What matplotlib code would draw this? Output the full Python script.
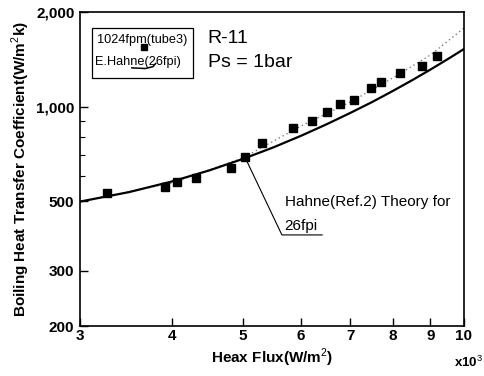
import matplotlib
matplotlib.use("Agg")
import matplotlib.pyplot as plt
from matplotlib.patches import Rectangle
from matplotlib.ticker import FixedLocator, NullFormatter, NullLocator

plt.rcParams['font.family'] = ['Liberation Sans', 'DejaVu Sans']
plt.rcParams['mathtext.fontset'] = 'custom'
plt.rcParams['mathtext.rm'] = 'Liberation Sans'
plt.rcParams['mathtext.bf'] = 'Liberation Sans:bold'

# Measured boiling heat transfer, 1024fpm tube 3 (heat flux in 10^3 W/m^2)
q_meas = [3.27, 3.92, 4.07, 4.32, 4.82, 5.03, 5.31, 5.85, 6.21, 6.51,
          6.78, 7.09, 7.48, 7.71, 8.19, 8.77, 9.19]
h_meas = [530, 554, 575, 592, 637, 691, 765, 854, 899, 961,
          1019, 1049, 1146, 1197, 1279, 1346, 1449]

# Hahne theory for 26 fpi
q_theory = [3, 3.5, 4, 4.5, 5, 5.5, 6, 6.5, 7, 7.5, 8, 8.5, 9, 9.5, 10]
h_theory = [498, 534, 577, 626, 681, 741, 807, 878, 954, 1034, 1121, 1213,
            1311, 1415, 1525]

# Trend through the measured data
q_trend = [3, 4, 5, 6, 7, 8, 9, 10]
h_trend = [498, 571, 686, 867, 1033, 1233, 1459, 1778]

x_ticks = [3, 4, 5, 6, 7, 8, 9, 10]
y_ticks = [200, 300, 500, 1000, 2000]
y_tick_labels = ['200', '300', '500', '1,000', '2,000']
y_minor = [600, 700, 800, 900]

fig = plt.figure(figsize=(4.84, 3.76), dpi=100)
ax = fig.add_axes([80 / 484, 50 / 376, 384 / 484, 314 / 376])
ax.set_xscale('log')
ax.set_yscale('log')
ax.set_xlim(3, 10)
ax.set_ylim(200, 2000)

ax.plot(q_trend, h_trend, color='#666666', lw=0.9, ls=(0, (1, 2.5)))
ax.plot(q_theory, h_theory, color='black', lw=1.6)
ax.plot(q_meas, h_meas, ls='none', marker='s', ms=5.2, color='black')

ax.xaxis.set_major_locator(FixedLocator(x_ticks))
ax.xaxis.set_minor_locator(NullLocator())
ax.set_xticklabels([str(v) for v in x_ticks])
ax.xaxis.set_minor_formatter(NullFormatter())
ax.yaxis.set_major_locator(FixedLocator(y_ticks))
ax.set_yticklabels(y_tick_labels)
ax.yaxis.set_minor_locator(FixedLocator(y_minor))
ax.yaxis.set_minor_formatter(NullFormatter())

ax.tick_params(axis='both', which='major', direction='in', length=6, width=1,
               labelsize=11)
ax.tick_params(axis='x', which='major', pad=2)
ax.tick_params(axis='y', which='major', pad=4)
ax.tick_params(axis='y', which='minor', direction='in', length=3.5, width=0.8)
for lab in ax.get_xticklabels() + ax.get_yticklabels():
    lab.set_fontweight('bold')
for sp in ax.spines.values():
    sp.set_linewidth(1.2)

ax.set_xlabel('Heax Flux(W/m$^2$)', fontsize=11, fontweight='bold', labelpad=3)
ax.set_ylabel('Boiling Heat Transfer Coefficient(W/m$^2$k)', fontsize=11,
              fontweight='bold', labelpad=3)
ax.text(1.049, -0.092, 'x10$^3$', transform=ax.transAxes, ha='right',
        va='top', fontsize=9.5, fontweight='bold')

# Legend box
ax.add_patch(Rectangle((0.03125, 0.790), 0.263, 0.159, transform=ax.transAxes,
                       fc='white', ec='black', lw=0.9, zorder=3))
ax.text(0.161, 0.911, '1024fpm(tube3)', transform=ax.transAxes, ha='center',
        va='center', fontsize=9.2, zorder=4)
ax.text(0.150, 0.841, 'E.Hahne(26fpi)', transform=ax.transAxes, ha='center',
        va='center', fontsize=9.2, zorder=4)
ax.plot([0.1667], [0.889], transform=ax.transAxes, marker='s', ms=4.5,
        color='black', ls='none', zorder=5)
ax.plot([0.135, 0.17, 0.19, 0.197], [0.822, 0.82, 0.826, 0.836],
        transform=ax.transAxes, color='black', lw=1.1, zorder=5)

ax.text(0.333, 0.915, 'R-11', transform=ax.transAxes, ha='left', va='center',
        fontsize=14)
ax.text(0.333, 0.838, 'Ps = 1bar', transform=ax.transAxes, ha='left',
        va='center', fontsize=14)

# Theory annotation
ax.plot([5.03, 5.65, 6.41], [691, 390, 390], color='black', lw=0.8)
ax.text(5.7, 497, 'Hahne(Ref.2) Theory for', ha='left', va='center',
        fontsize=11)
ax.text(5.7, 416, '26fpi', ha='left', va='center', fontsize=11)

fig.savefig('out.png', dpi=100)
